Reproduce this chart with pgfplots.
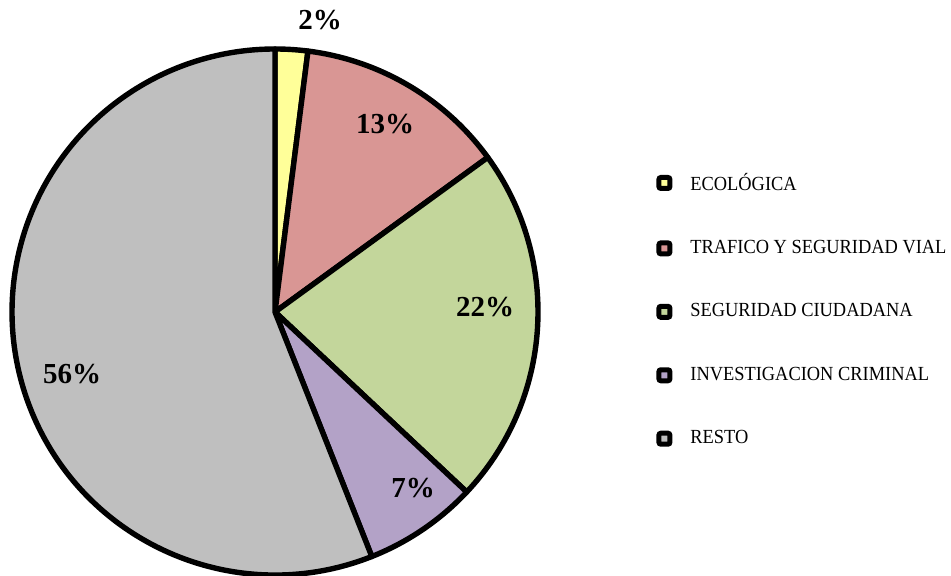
\documentclass[border=0pt]{standalone}
\usepackage{fontspec}
\setmainfont{Liberation Serif}
\newfontfamily\legfont[FakeStretch=0.92]{Liberation Serif}
\usepackage{pgfplots}
\usepackage{pgfplotstable}
\pgfplotsset{compat=1.18}

\definecolor{cEco}{HTML}{FFFF99}
\definecolor{cTraf}{HTML}{D99694}
\definecolor{cSeg}{HTML}{C3D69B}
\definecolor{cInv}{HTML}{B3A2C7}
\definecolor{cResto}{HTML}{BFBFBF}

% share of each category, in %, clockwise from 12 o'clock
\pgfplotstableread[col sep=comma]{
label,val,col
ECOLÓGICA,2,cEco
TRAFICO Y SEGURIDAD VIAL,13,cTraf
SEGURIDAD CIUDADANA,22,cSeg
INVESTIGACION CRIMINAL,7,cInv
RESTO,56,cResto
}\piedata

% start/end angles of the wedges
\gdef\piecum{0}
\pgfplotsforeachungrouped \i in {0,...,4}{%
  \pgfplotstablegetelem{\i}{val}\of\piedata
  \pgfmathsetmacro\ps{90-3.6*\piecum}%
  \pgfmathsetmacro\pcn{\piecum+\pgfplotsretval}%
  \pgfmathsetmacro\pe{90-3.6*\pcn}%
  \expandafter\xdef\csname pieS\i\endcsname{\ps}%
  \expandafter\xdef\csname pieE\i\endcsname{\pe}%
  \pgfplotstablegetelem{\i}{col}\of\piedata
  \colorlet{pieC\i}{\pgfplotsretval}%
  \xdef\piecum{\pcn}%
}

\pgfplotsset{
  legsq/.style={legend image code/.code={%
    \draw[fill=#1, line width=2.5pt, rounded corners=1pt] (0pt,-2.75pt) rectangle (5.5pt,2.75pt);}},
}

\begin{document}
\begin{tikzpicture}
\begin{axis}[
  name=ax,
  hide axis, scale only axis,
  width=475.5pt, height=288pt,
  xmin=0, xmax=951, ymin=0, ymax=576,
  clip=false,
  legend style={at={(axis cs:656,407.5)}, anchor=north west,
    draw=none, fill=none, inner sep=0pt,
    font=\legfont\fontsize{10}{12}\selectfont,
    row sep=19.6pt, column sep=7pt,
    cells={anchor=west}},
]
\pgfplotsinvokeforeach{0,...,4}{%
  \edef\tmp{\noexpand\filldraw[fill=pieC#1, draw=black, line width=2.7pt, line join=round]
    (axis cs:275,264) -- ++(\csname pieS#1\endcsname:131.5pt)
    arc[start angle=\csname pieS#1\endcsname, end angle=\csname pieE#1\endcsname, radius=131.5pt] -- cycle;}\tmp
}
\begin{scope}[font=\bfseries\fontsize{14.5}{16}\selectfont]
\node at (axis cs:320,556) {2\%};
\node at (axis cs:385,452) {13\%};
\node at (axis cs:485,269) {22\%};
\node at (axis cs:413,88) {7\%};
\node at (axis cs:72,202) {56\%};
\end{scope}
\addlegendimage{legsq=pieC0}
\addlegendentry{ECOLÓGICA}
\addlegendimage{legsq=pieC1}
\addlegendentry{TRAFICO Y SEGURIDAD VIAL}
\addlegendimage{legsq=pieC2}
\addlegendentry{SEGURIDAD CIUDADANA}
\addlegendimage{legsq=pieC3}
\addlegendentry{INVESTIGACION CRIMINAL}
\addlegendimage{legsq=pieC4}
\addlegendentry{RESTO}
\end{axis}
\pgfresetboundingbox
\path (ax.south west) rectangle (ax.north east);
\end{tikzpicture}
\end{document}
